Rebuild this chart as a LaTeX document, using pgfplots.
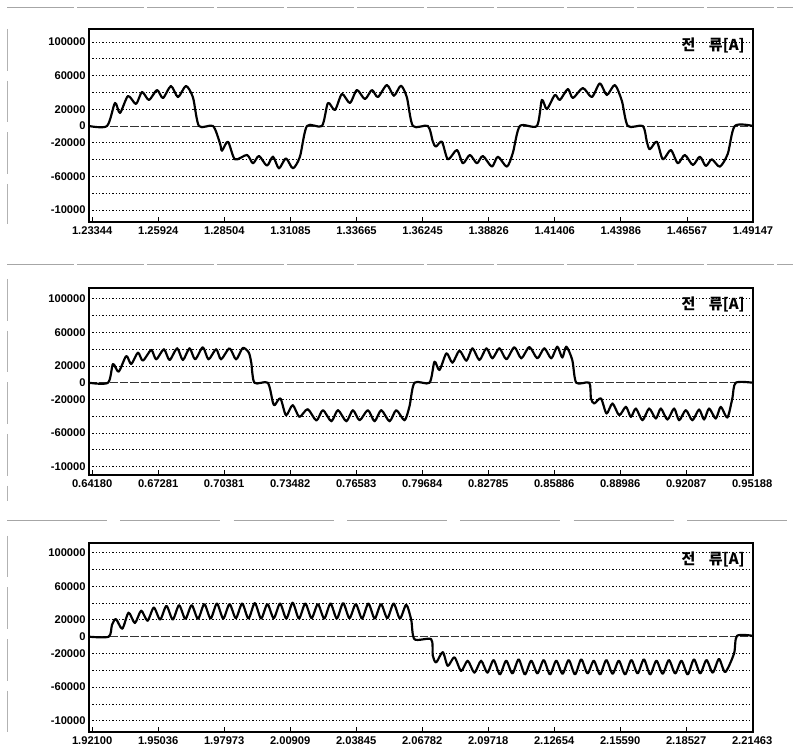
\documentclass[border=0pt]{standalone}
\usepackage{pgfplots}
\pgfplotsset{compat=1.18}
\usepackage{fontspec}
\setmainfont{Liberation Sans}
\newfontfamily\kr{Noto Sans CJK KR}
\pgfplotsset{
  panel/.style={
    scale only axis, width=398.4pt, anchor=south west,
    axis line style={line width=0.9pt},
    scaled y ticks=false, scaled x ticks=false,
    ymajorgrids,
    grid style={dash pattern=on 0.7pt off 1.3pt, line width=0.5pt, black},
    ytick={-100000,-80000,-60000,-40000,-20000,20000,40000,60000,80000,100000},
    yticklabels={-10000,,-60000,,-20000,20000,,60000,,100000},
    extra y ticks={0}, extra y tick labels={0},
    extra y tick style={grid=major, major grid style={dash pattern=on 5pt off 1.2pt, line width=0.5pt, black!80}},
    ytick style={draw=none},
    xtick pos=bottom, tick align=inside, major tick length=3pt,
    xtick style={line width=0.5pt, black},
    ticklabel style={font=\fontsize{6.7}{7}\selectfont\bfseries},
    /pgf/number format/assume math mode=true,
    yticklabel style={xshift=1.5pt},
    xticklabel style={yshift=0.5pt},
  },
  wave/.style={black, line width=1.3pt, no marks, smooth, tension=0.45, line join=round},
}
\begin{document}
\begin{tikzpicture}
\path[use as bounding box] (0,0) rectangle (475.8pt,452.4pt);
% scan frame lines
\draw[gray!70, line width=0.6pt, dash pattern=on 40pt off 2pt] (4.2pt,447.6pt) -- (475.8pt,447.6pt);
\draw[gray!70, line width=0.6pt, dash pattern=on 40pt off 2pt] (4.2pt,293.4pt) -- (475.8pt,293.4pt);
\draw[gray!70, line width=0.6pt, dash pattern=on 60pt off 8pt] (4.2pt,139.8pt) -- (475.8pt,139.8pt);
\draw[gray!60, line width=0.5pt, dash pattern=on 25pt off 6pt] (4.2pt,435pt) -- (4.2pt,318pt);
\draw[gray!60, line width=0.5pt, dash pattern=on 25pt off 6pt] (4.2pt,285pt) -- (4.2pt,152pt);
\draw[gray!60, line width=0.5pt, dash pattern=on 25pt off 6pt] (4.2pt,131pt) -- (4.2pt,8pt);

% ---------------- Panel 1 ----------------
\begin{axis}[panel, at={(53.4pt,319.2pt)}, height=115.8pt,
  xmin=1.23219, xmax=1.49147, ymin=-114300, ymax=115500,
  xtick={1.23344,1.25924,1.28504,1.31085,1.33665,1.36245,1.38826,1.41406,1.43986,1.46567,1.49147},
  xticklabels={1.23344,1.25924,1.28504,1.31085,1.33665,1.36245,1.38826,1.41406,1.43986,1.46567,1.49147}]
\addplot[wave] coordinates {
(1.23219,0) (1.23922,0) (1.24234,27400) (1.24429,15500) (1.24742,35700) (1.25054,26200)
(1.25288,40500) (1.25561,31000) (1.25874,42800) (1.26108,33300) (1.26420,47600) (1.26693,34500)
(1.27006,47600) (1.27279,34000) (1.27513,0) (1.28060,0) (1.28333,-20600) (1.28411,-29400)
(1.28645,-18700) (1.28918,-39700) (1.29387,-34500) (1.29621,-44400) (1.29855,-35700) (1.30168,-47200)
(1.30402,-36500) (1.30636,-50400) (1.30909,-38500) (1.31182,-50400) (1.31456,-36500) (1.31729,0)
(1.32314,0) (1.32549,27400) (1.32822,19000) (1.33096,38100) (1.33407,27400) (1.33681,42800)
(1.33993,32100) (1.34266,42800) (1.34500,34500) (1.34852,48800) (1.35125,36000) (1.35398,48000)
(1.35632,34000) (1.35867,0) (1.36452,0) (1.36647,-18700) (1.36765,-24600) (1.36999,-18700)
(1.37233,-39700) (1.37584,-28600) (1.37818,-44400) (1.38092,-34500) (1.38365,-44400) (1.38599,-35700)
(1.38951,-48400) (1.39185,-36500) (1.39536,-48400) (1.39770,-32000) (1.40044,0) (1.40707,0)
(1.40902,31000) (1.41098,20200) (1.41410,36900) (1.41605,31000) (1.41917,44000) (1.42113,33300)
(1.42503,45200) (1.42854,34500) (1.43167,50800) (1.43440,36900) (1.43752,48800) (1.44025,30000)
(1.44260,0) (1.44845,0) (1.45001,-18700) (1.45118,-27800) (1.45392,-18700) (1.45626,-39700)
(1.45938,-28600) (1.46211,-44400) (1.46485,-34500) (1.46797,-46400) (1.47070,-36500) (1.47304,-47600)
(1.47539,-39700) (1.47851,-48400) (1.48163,-33000) (1.48436,0) (1.49147,0)
};
\node[anchor=north east, inner sep=0pt, font={\kr\bfseries\fontsize{9}{9}\selectfont}] at (rel axis cs:0.988,0.955) {전\hspace{0.9em}류[A]};
\end{axis}

% ---------------- Panel 2 ----------------
\begin{axis}[panel, at={(53.4pt,167.4pt)}, height=112.2pt,
  xmin=0.64030, xmax=0.95226, ymin=-110000, ymax=113000,
  xtick={0.64180,0.67281,0.70381,0.73482,0.76583,0.79684,0.82785,0.85886,0.88986,0.92087,0.95188},
  xticklabels={0.64180,0.67281,0.70381,0.73482,0.76583,0.79684,0.82785,0.85886,0.88986,0.92087,0.95188}]
\addplot[wave] coordinates {
(0.64030,0) (0.64921,0) (0.65156,22300) (0.65423,13200) (0.65780,31900) (0.66014,22300)
(0.66329,35900) (0.66563,26300) (0.66952,39100) (0.67187,27900) (0.67548,39900) (0.67816,27100)
(0.68172,41100) (0.68440,27100) (0.68754,41100) (0.69017,27900) (0.69378,42300) (0.69645,27900)
(0.70002,40000) (0.70236,27900) (0.70630,41100) (0.70940,27900) (0.71254,41500) (0.71536,36000)
(0.71653,24000) (0.71803,0) (0.72427,0) (0.72662,-22700) (0.72755,-26700) (0.73023,-18700)
(0.73285,-38700) (0.73600,-26700) (0.73914,-40700) (0.74303,-31500) (0.74712,-45000) (0.75021,-32700)
(0.75415,-45900) (0.75725,-32700) (0.76119,-45900) (0.76428,-32700) (0.76743,-44700) (0.77132,-32700)
(0.77446,-45900) (0.77761,-32700) (0.78150,-45900) (0.78464,-32700) (0.78854,-44700) (0.79088,-28000)
(0.79323,0) (0.80027,0) (0.80261,25100) (0.80496,15200) (0.80824,35100) (0.81106,23900)
(0.81434,38300) (0.81762,26300) (0.82044,41100) (0.82372,27100) (0.82701,41100) (0.82982,29100)
(0.83310,41100) (0.83639,28000) (0.84014,42300) (0.84342,29100) (0.84718,42700) (0.85093,29100)
(0.85421,41100) (0.85750,29100) (0.86031,43100) (0.86266,30000) (0.86453,43100) (0.86735,27100)
(0.86922,0) (0.87532,0) (0.87612,-18700) (0.87767,-24700) (0.88081,-18700) (0.88344,-36700)
(0.88625,-24700) (0.88940,-38700) (0.89254,-28700) (0.89488,-40700) (0.89723,-30700) (0.90033,-44700)
(0.90347,-30700) (0.90661,-42700) (0.90896,-30700) (0.91205,-43900) (0.91520,-30700) (0.91754,-44700)
(0.92069,-32700) (0.92378,-44700) (0.92693,-31900) (0.92927,-43900) (0.93162,-30700) (0.93476,-42700)
(0.93711,-28700) (0.94020,-41500) (0.94255,-18700) (0.94414,0) (0.95226,0)
};
\node[anchor=north east, inner sep=0pt, font={\kr\bfseries\fontsize{9}{9}\selectfont}] at (rel axis cs:0.988,0.955) {전\hspace{0.9em}류[A]};
\end{axis}

% ---------------- Panel 3 ----------------
\begin{axis}[panel, at={(53.4pt,13.2pt)}, height=113.4pt,
  xmin=1.91958, xmax=2.21499, ymin=-113400, ymax=111500,
  xtick={1.92100,1.95036,1.97973,2.00909,2.03845,2.06782,2.09718,2.12654,2.15590,2.18527,2.21463},
  xticklabels={1.92100,1.95036,1.97973,2.00909,2.03845,2.06782,2.09718,2.12654,2.15590,2.18527,2.21463}]
\addplot[wave] coordinates {
(1.91958,0) (1.92833,0) (1.92980,14000) (1.93157,21000) (1.93438,9500)
(1.93719,28600) (1.93999,16300) (1.94280,31000) (1.94561,19000) (1.94842,34700) (1.95122,20400)
(1.95403,36700) (1.95684,20400) (1.95965,37500) (1.96245,21200) (1.96526,37500) (1.96807,21200)
(1.97088,38800) (1.97368,21600) (1.97649,39500) (1.97930,21600) (1.98211,38800) (1.98491,22000)
(1.98772,39500) (1.99053,21600) (1.99334,40000) (1.99614,21600) (1.99895,38800) (2.00176,22000)
(2.00457,39500) (2.00737,21600) (2.01018,40400) (2.01299,21600) (2.01580,39500) (2.01860,22000)
(2.02141,38800) (2.02422,21600) (2.02703,39500) (2.02983,21600) (2.03264,40000) (2.03545,22000)
(2.03826,38800) (2.04106,21600) (2.04387,39500) (2.04668,21600) (2.04949,38800) (2.05229,22000)
(2.05510,39500) (2.05791,21600) (2.06072,38000) (2.06293,20000) (2.06439,-3000) (2.07181,-3000)
(2.07252,-22400) (2.07403,-30600) (2.07697,-18400) (2.07919,-34700) (2.08216,-24500) (2.08514,-40800)
(2.08807,-28600) (2.09105,-42800)
(2.09402,-28600) (2.09681,-42800) (2.09959,-27800) (2.10238,-44900) (2.10516,-28600) (2.10795,-43700)
(2.11073,-27000) (2.11352,-44900) (2.11630,-28600) (2.11909,-43700) (2.12187,-27800) (2.12466,-44900)
(2.12744,-28600) (2.13023,-44100) (2.13301,-27800) (2.13580,-44900) (2.13858,-27000) (2.14137,-43700)
(2.14415,-28600) (2.14694,-44900) (2.14972,-27800) (2.15251,-44100) (2.15529,-28600) (2.15808,-44900)
(2.16087,-27800) (2.16365,-43700) (2.16644,-27000) (2.16922,-44900) (2.17201,-28600) (2.17479,-44100)
(2.17758,-27800) (2.18036,-43700) (2.18315,-28600) (2.18593,-44900) (2.18872,-27000) (2.19150,-43700)
(2.19429,-27800) (2.19707,-42800) (2.19986,-26500) (2.20264,-42000) (2.20655,-20000) (2.20788,1000)
(2.21499,1000)
};
\node[anchor=north east, inner sep=0pt, font={\kr\bfseries\fontsize{9}{9}\selectfont}] at (rel axis cs:0.988,0.955) {전\hspace{0.9em}류[A]};
\end{axis}
\end{tikzpicture}
\end{document}
